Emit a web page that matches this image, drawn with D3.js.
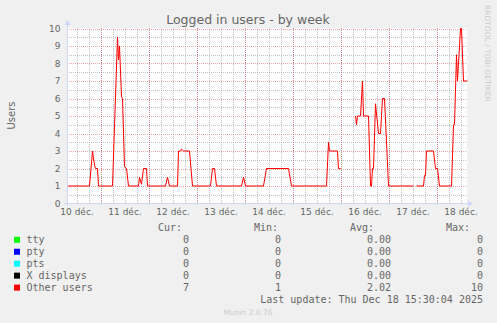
<!DOCTYPE html>
<html>
<head>
<meta charset="utf-8">
<script src="https://cdn.jsdelivr.net/npm/d3@7"></script>
<style>
    body { margin: 0; background: #f0f0f0; }
    svg { display: block; }
    text { fill: #666666; }
</style>
</head>
<body>
<svg id="chart" width="497" height="323"></svg>
<script>
// hours since 10 déc. 00:00, null = no data
var hours = [7.5, 18.5, 20, 21, 21.5, 22.5, 23, 30, 32.5, 33, 33.5, 34.5, 35, 36, 37, 38,
    43, 43.5, 44.5, 45.5, 47, 47.5, 56.5, 57.5, 58.5, 62.5, 63, 64, 64.5, 65.5, 68.5, 70,
    79, 80, 81, 82, 94.5, 95.5, 96.5, 105.5, 107, 118, 119.5, 137, 138, 138.5, 142.5, 143, 144,
    146,
    151.5, 152, 152.5, 154, 155, 155.5, 158, 159, 159.5, 160, 160.5, 161.5, 163, 164, 165, 166, 168,
    180.5,
    181.5,
    182, 185.5, 186, 186.5, 187, 190.5, 191.5, 192.5, 193.5, 199.5, 200.5, 201, 202, 202.5, 204, 204.5, 205.5, 207.5];
var users = [1, 1, 3, 2.2, 2, 2, 1, 1, 9.5, 8.2, 9, 6.1, 6, 2.1, 2, 1,
    1, 1.5, 1.1, 2, 2, 1, 1, 1.5, 1, 1, 3, 3, 3.1, 3, 3, 1,
    1, 2, 2, 1, 1, 1.5, 1, 1, 2, 2, 1, 1, 3.5, 3, 3, 2, 2,
    null,
    5, 4.5, 5, 5, 7, 5, 5, 1, 1, 2, 2, 5.7, 4, 4, 6, 6, 1,
    1,
    null,
    1, 1, 1.6, 1.6, 3, 3, 2, 2, 1, 1, 4.5, 4.5, 8.5, 7, 10, 10, 7, 7];

var yTicks = [0, 1, 2, 3, 4, 5, 6, 7, 8, 9, 10];

var legendNames = ["tty", "pty", "pts", "X displays", "Other users"];
var legendColors = ["#00ff00", "#0000ff", "#00ffff", "#000000", "#ff0000"];
var curValues = ["0", "0", "0", "0", "7"];
var minValues = ["0", "0", "0", "0", "1"];
var avgValues = ["0.00", "0.00", "0.00", "0.00", "2.02"];
var maxValues = ["0", "0", "0", "0", "10"];

var title = "Logged in users - by week";
var lastUpdate = "Last update: Thu Dec 18 15:30:04 2025";

var fr = d3.timeFormatLocale({
    dateTime: "%A %e %B %Y à %X", date: "%d/%m/%Y", time: "%H:%M:%S",
    periods: ["AM", "PM"],
    days: ["dimanche", "lundi", "mardi", "mercredi", "jeudi", "vendredi", "samedi"],
    shortDays: ["dim.", "lun.", "mar.", "mer.", "jeu.", "ven.", "sam."],
    months: ["janvier", "février", "mars", "avril", "mai", "juin", "juillet", "août", "septembre", "octobre", "novembre", "décembre"],
    shortMonths: ["janv.", "févr.", "mars", "avr.", "mai", "juin", "juil.", "août", "sept.", "oct.", "nov.", "déc."]
});

var base = new Date(2025, 11, 10, 0, 0, 0);
function hourDate(h) { return new Date(base.getTime() + h * 3600 * 1000); }

var plotLeft = 67, plotRight = 467, plotTop = 28, plotBottom = 203;

function draw(root)
{
    var svg = d3.select(root);
    var start = hourDate(hours[0]), end = hourDate(hours[hours.length - 1]);

    var x = d3.scaleTime().domain([start, end]).range([plotLeft + 0.5, plotRight + 0.5]);
    var y = d3.scaleLinear().domain([0, 10]).range([plotBottom + 0.5, plotTop + 0.5]);

    svg.append("rect").attr("x", plotLeft).attr("y", plotTop)
        .attr("width", plotRight - plotLeft).attr("height", plotBottom - plotTop)
        .attr("fill", "#ffffff");

    var minor = "rgba(143,143,143,0.55)", major = "rgba(222,79,79,0.5)";
    var grid = svg.append("g");
    // minor grid, every 6 hours / half unit
    grid.selectAll("line.vmin").data(d3.timeHour.every(6).range(start, end))
        .enter().append("line")
        .attr("x1", function(d) { return Math.round(x(d)) + 0.5 }).attr("x2", function(d) { return Math.round(x(d)) + 0.5 })
        .attr("y1", plotTop).attr("y2", plotBottom)
        .attr("stroke", minor).attr("stroke-dasharray", "1,1");
    grid.selectAll("line.hmin").data(d3.range(0.5, 10, 1))
        .enter().append("line")
        .attr("x1", plotLeft).attr("x2", plotRight)
        .attr("y1", function(d) { return Math.round(y(d)) + 0.5 }).attr("y2", function(d) { return Math.round(y(d)) + 0.5 })
        .attr("stroke", minor).attr("stroke-dasharray", "1,1");
    // major grid, midnight / units
    grid.selectAll("line.vmaj").data(d3.timeDay.range(start, end))
        .enter().append("line")
        .attr("x1", function(d) { return Math.round(x(d)) + 0.5 }).attr("x2", function(d) { return Math.round(x(d)) + 0.5 })
        .attr("y1", plotTop).attr("y2", plotBottom)
        .attr("stroke", major).attr("stroke-dasharray", "1,1");
    grid.selectAll("line.hmaj").data(yTicks.slice(1))
        .enter().append("line")
        .attr("x1", plotLeft).attr("x2", plotRight)
        .attr("y1", function(d) { return Math.round(y(d)) + 0.5 }).attr("y2", function(d) { return Math.round(y(d)) + 0.5 })
        .attr("stroke", major).attr("stroke-dasharray", "1,1");

    var data = hours.map(function(h, i) { return { t: hourDate(h), v: users[i] } });
    var line = d3.line()
        .defined(function(d) { return d.v != null })
        .x(function(d) { return x(d.t) })
        .y(function(d) { return y(d.v) });
    svg.append("path").datum(data)
        .attr("d", line)
        .attr("fill", "none").attr("stroke", "#ff0000").attr("stroke-width", 1);

    // axes
    var axisColor = "#cfd6f8";
    svg.append("line").attr("x1", plotLeft + 0.5).attr("x2", plotLeft + 0.5).attr("y1", plotBottom + 3).attr("y2", plotTop - 4)
        .attr("stroke", axisColor);
    svg.append("line").attr("x1", plotLeft - 3).attr("x2", plotRight + 3).attr("y1", plotBottom + 0.5).attr("y2", plotBottom + 0.5)
        .attr("stroke", axisColor);
    svg.append("path").attr("d", d3.line()([[plotLeft - 2.5, plotTop - 3], [plotLeft + 3.5, plotTop - 3], [plotLeft + 0.5, plotTop - 8]]))
        .attr("fill", axisColor);
    svg.append("path").attr("d", d3.line()([[plotRight + 1, plotBottom - 2.5], [plotRight + 1, plotBottom + 3.5], [plotRight + 6, plotBottom + 0.5]]))
        .attr("fill", axisColor);

    var yAxis = svg.append("g").attr("transform", format("translate({}, 0)", plotLeft))
        .call(d3.axisLeft(y).tickValues(yTicks).tickSize(0).tickPadding(6.5));
    yAxis.select(".domain").remove();
    yAxis.selectAll("text").attr("font-family", "DejaVu Sans").attr("font-size", 9).style("fill", "#666666");

    var noons = d3.timeDay.range(d3.timeDay.floor(start), end)
        .map(function(d) { return d3.timeHour.offset(d, 12) })
        .filter(function(d) { return d >= start && d <= end });
    var xAxis = svg.append("g").attr("transform", format("translate(0, {})", plotBottom))
        .call(d3.axisBottom(x).tickValues(noons).tickFormat(fr.format("%d %b")).tickSize(0));
    xAxis.select(".domain").remove();
    xAxis.selectAll("text").attr("font-family", "DejaVu Sans").attr("font-size", 9)
        .attr("y", 12).attr("dy", null).style("fill", "#666666");

    // titles
    svg.append("text").attr("x", 248).attr("y", 23.5).attr("text-anchor", "middle")
        .attr("font-family", "DejaVu Sans").attr("font-size", 12.5).text(title);
    svg.append("text").attr("transform", format("translate({}, {}) rotate(-90)", 14.5, (plotTop + plotBottom) / 2))
        .attr("text-anchor", "middle")
        .attr("font-family", "DejaVu Sans").attr("font-size", 10).text("Users");
    svg.append("text").attr("transform", format("translate({}, {}) rotate(90)", 485, 5))
        .attr("font-family", "DejaVu Sans").attr("font-size", 7.5).style("fill", "#cccccc")
        .text("RRDTOOL / TOBI OETIKER");

    // legend
    var mono = "DejaVu Sans Mono";
    var legend = svg.append("g").attr("font-family", mono).attr("font-size", 10);
    var heads = [["Cur:", 182], ["Min:", 278], ["Avg:", 374], ["Max:", 470]];
    legend.selectAll("text.head").data(heads).enter().append("text")
        .attr("x", function(d) { return d[1] }).attr("y", 230.8).attr("text-anchor", "end")
        .text(function(d) { return d[0] });

    var rows = legend.selectAll("g.row").data(legendNames).enter().append("g")
        .attr("transform", function(d, i) { return format("translate(0, {})", 243.3 + i * 11.95) });
    rows.append("rect").attr("x", 14).attr("y", -6.5).attr("width", 6).attr("height", 6)
        .attr("fill", function(d, i) { return legendColors[i] });
    rows.append("text").attr("x", 26.5).text(function(d) { return d });
    var cols = [[curValues, 189], [minValues, 281], [avgValues, 391], [maxValues, 483]];
    cols.forEach(function(c) {
        rows.append("text").attr("x", c[1]).attr("text-anchor", "end")
            .text(function(d, i) { return c[0][i] });
    });

    legend.append("text").attr("x", 483).attr("y", 303.2).attr("text-anchor", "end").text(lastUpdate);
    svg.append("text").attr("x", 248).attr("y", 314.8).attr("text-anchor", "middle")
        .attr("font-family", "DejaVu Sans").attr("font-size", 7.5).style("fill", "#cccccc")
        .text("Munin 2.0.76");
}

function format(s) {
    var args = Array.prototype.slice.call(arguments, 1), i = 0;
    return s.replace(/\{\}/g, function() { return args[i++] });
}

draw("#chart");
</script>
</body>
</html>
